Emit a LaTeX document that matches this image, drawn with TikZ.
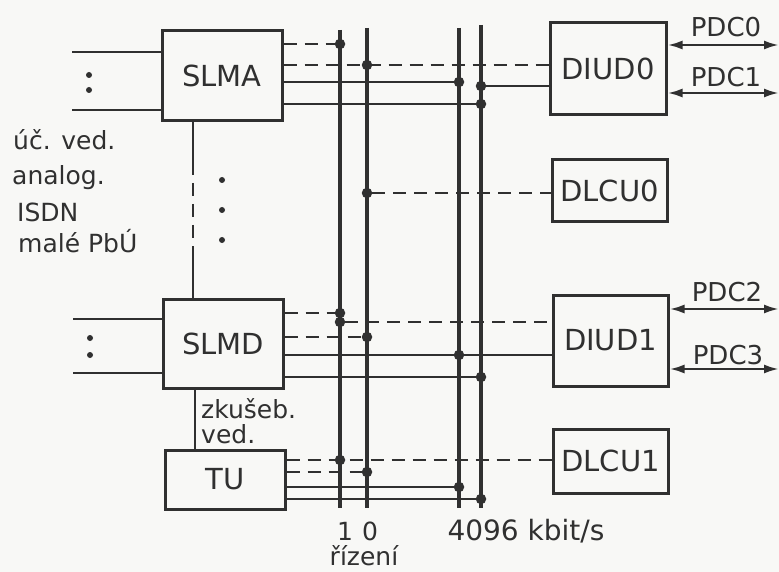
\documentclass[tikz,border=0pt]{standalone}
\usepackage{fontspec}
\setmainfont{DejaVu Sans}
\usetikzlibrary{arrows.meta}
\definecolor{ink}{HTML}{303030}
\definecolor{paper}{HTML}{F8F8F6}
\begin{document}
\begin{tikzpicture}[x=1pt,y=-1pt,color=ink,
  box/.style={draw, line width=3pt, inner sep=0pt, font=\fontsize{29}{33}\selectfont},
  wire/.style={line width=2.5pt},
  dwire/.style={line width=2.5pt, dash pattern=on 13pt off 8pt},
  bus/.style={line width=3.8pt},
  lbl/.style={font=\fontsize{25}{29}\selectfont, inner sep=0pt},
  jdot/.style={circle, fill, inner sep=0pt, minimum size=10.5pt},
  sdot/.style={circle, fill, inner sep=0pt, minimum size=6pt},
  pdc/.style={line width=2.5pt, {Latex[length=15pt,width=9pt]}-{Latex[length=15pt,width=9pt]}}]
\fill[paper] (0,0) rectangle (779,572);
\useasboundingbox (0,0) rectangle (779,572);

% boxes
\node[box, minimum width=120pt, minimum height=90pt] (slma) at (222,76) {SLMA};
\node[box, minimum width=120pt, minimum height=89pt] (slmd) at (223,343.5) {SLMD};
\node[box, minimum width=120pt, minimum height=59pt] (tu) at (225,479.5) {TU};
\node[box, minimum width=116pt, minimum height=92pt] (diud0) at (608,69) {DIUD0};
\node[box, minimum width=115pt, minimum height=62pt] (dlcu0) at (609.5,191) {DLCU0};
\node[box, minimum width=115pt, minimum height=91pt] (diud1) at (610.5,340.5) {DIUD1};
\node[box, minimum width=115pt, minimum height=64pt] (dlcu1) at (610.5,461) {DLCU1};

% buses
\coordinate (b1t) at (340,30); \coordinate (b1b) at (340,508);
\coordinate (b2t) at (367,28); \coordinate (b2b) at (367,508);
\coordinate (b3t) at (459,28); \coordinate (b3b) at (459,508);
\coordinate (b4t) at (481,25); \coordinate (b4b) at (481,508);
\draw[bus] (b1t) -- (b1b);
\draw[bus] (b2t) -- (b2b);
\draw[bus] (b3t) -- (b3b);
\draw[bus] (b4t) -- (b4b);

% left subscriber lines
\coordinate (la1) at (72,52); \coordinate (la2) at (72,110);
\coordinate (ld1) at (73,319); \coordinate (ld2) at (73,373);
\draw[wire] (la1) -- (slma.west |- la1);
\draw[wire] (la2) -- (slma.west |- la2);
\draw[wire] (ld1) -- (slmd.west |- ld1);
\draw[wire] (ld2) -- (slmd.west |- ld2);
\node[sdot] (ca1) at (89,75) {};
\node[sdot] (ca2) at (89,90) {};
\node[sdot] (cd1) at (90,338) {};
\node[sdot] (cd2) at (90,355) {};

% vertical link SLMA - SLMD
\coordinate (v1) at (193,162); \coordinate (v2) at (193,256);
\draw[wire] (slma.south -| v1) -- (v1);
\draw[dwire] (v1) -- (v2);
\draw[wire] (v2) -- (slmd.north -| v2);
\node[sdot] (vd1) at (222,180) {};
\node[sdot] (vd2) at (222,210) {};
\node[sdot] (vd3) at (222,240) {};
% link SLMD - TU
\coordinate (v3) at (195,0);
\draw[wire] (slmd.south -| v3) -- (tu.north -| v3);

% SLMA connections
\node[jdot] (a1) at (340,44) {};
\node[jdot] (a2) at (367,65) {};
\node[jdot] (a3) at (459,82) {};
\node[jdot] (a4) at (481,104) {};
\node[jdot] (a5) at (481,86) {};
\draw[dwire] (slma.east |- a1) -- (a1);
\draw[dwire] (slma.east |- a2) -- (diud0.west |- a2);
\draw[wire] (slma.east |- a3) -- (a3);
\draw[wire] (slma.east |- a4) -- (a4);
\draw[wire] (a5) -- (diud0.west |- a5);

% DLCU0
\node[jdot] (c1) at (367,193) {};
\draw[dwire] (c1) -- (dlcu0.west |- c1);

% SLMD connections
\node[jdot] (d1) at (340,313) {};
\node[jdot] (d2) at (340,322) {};
\node[jdot] (d3) at (367,337) {};
\node[jdot] (d4) at (459,355) {};
\node[jdot] (d5) at (481,377) {};
\draw[dwire] (slmd.east |- d1) -- (d1);
\draw[dwire] (d2) -- (diud1.west |- d2);
\draw[dwire] (slmd.east |- d3) -- (d3);
\draw[wire] (slmd.east |- d4) -- (diud1.west |- d4);
\draw[wire] (slmd.east |- d5) -- (d5);

% TU connections
\node[jdot] (t1) at (340,460) {};
\node[jdot] (t2) at (367,472) {};
\node[jdot] (t3) at (459,487) {};
\node[jdot] (t4) at (481,499) {};
\draw[dwire] (tu.east |- t1) -- (dlcu1.west |- t1);
\draw[dwire] (tu.east |- t2) -- (t2);
\draw[wire] (tu.east |- t3) -- (t3);
\draw[wire] (tu.east |- t4) -- (t4);

% PDC links
\coordinate (p0) at (779,45); \coordinate (p1) at (779,93);
\coordinate (p2) at (779,309); \coordinate (p3) at (779,369);
\draw[pdc] (diud0.east |- p0) -- (p0);
\draw[pdc] (diud0.east |- p1) -- (p1);
\draw[pdc] (diud1.east |- p2) -- (p2);
\draw[pdc] (diud1.east |- p3) -- (p3);
\node[lbl, font=\fontsize{26}{30}\selectfont] (lp0) at (726,27) {PDC0};
\node[lbl, font=\fontsize{26}{30}\selectfont] (lp1) at (726,77) {PDC1};
\node[lbl, font=\fontsize{26}{30}\selectfont] (lp2) at (727,292) {PDC2};
\node[lbl, font=\fontsize{26}{30}\selectfont] (lp3) at (728,355) {PDC3};

% left labels
\node[lbl, anchor=base west] (l1) at (13,150) {úč. ved.};
\node[lbl, anchor=base west] (l2) at (12,185) {analog.};
\node[lbl, anchor=base west] (l3) at (17,222) {ISDN};
\node[lbl, anchor=base west] (l4) at (18,252) {malé PbÚ};

% test line label
\node[lbl, anchor=base west] (z1) at (201,418) {zkušeb.};
\node[lbl, anchor=base west] (z2) at (201,443) {ved.};

% bottom labels
\node[lbl, anchor=base] (n1) at (345,540) {1};
\node[lbl, anchor=base] (n0) at (370,540) {0};
\node[lbl, anchor=base] (rz) at (364,565) {řízení};
\node[lbl, anchor=base, font=\fontsize{28}{32}\selectfont] (kb) at (526,540) {4096 kbit/s};
\end{tikzpicture}
\end{document}
